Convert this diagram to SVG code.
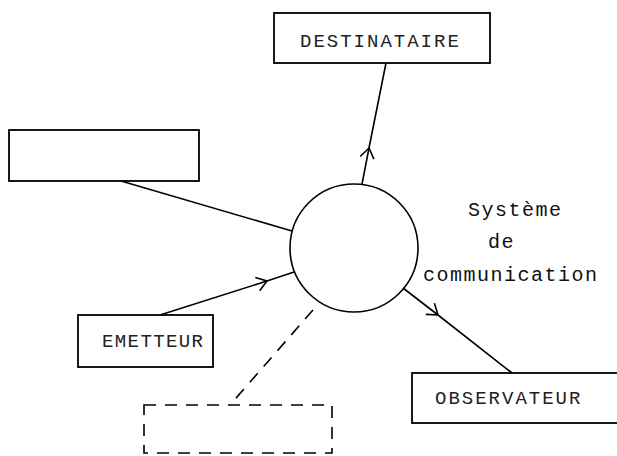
<svg xmlns="http://www.w3.org/2000/svg" width="617" height="456" viewBox="0 0 617 456">
<defs>
<marker id="chev" viewBox="-12 -12 24 24" markerWidth="24" markerHeight="24" markerUnits="userSpaceOnUse" orient="auto" refX="0" refY="0">
<path d="M-10,-7 L0,0 L-10,7" fill="none" stroke="#000" stroke-width="1.6"/>
</marker>
<style>
.box{fill:#fff;stroke:#000;stroke-width:1.8}
.dash{fill:none;stroke:#000;stroke-width:1.6;stroke-dasharray:12 9}
.ln{fill:none;stroke:#000;stroke-width:1.6}
.lbl{font-family:"Liberation Mono","DejaVu Sans Mono",monospace;font-size:19px;letter-spacing:2px;fill:#222}
.sys{font-family:"Liberation Mono","DejaVu Sans Mono",monospace;font-size:20px;letter-spacing:1.5px;fill:#111}
</style>
</defs>
<rect width="617" height="456" fill="#fff"/>
<g id="connectors">
<path class="ln" d="M362,184 L369,148 L386,63" marker-mid="url(#chev)"/>
<path class="ln" d="M121,181 L292,231"/>
<path class="ln" d="M160,315 L267,281 L294,272" marker-mid="url(#chev)"/>
<path class="ln" d="M403,288 L438,315 L512,373" marker-mid="url(#chev)"/>
<path class="dash" d="M313,310 L230,405"/>
</g>
<g id="systeme">
<circle cx="354" cy="248" r="64" fill="none" stroke="#000" stroke-width="1.6"/>
<text class="sys" x="468" y="216">Système</text>
<text class="sys" x="488" y="248">de</text>
<text class="sys" x="423" y="281">communication</text>
</g>
<g id="destinataire">
<rect class="box" x="274" y="13" width="216" height="50"/>
<text class="lbl" x="300" y="47">DESTINATAIRE</text>
</g>
<g id="source">
<rect class="box" x="9" y="130" width="190" height="51"/>
</g>
<g id="emetteur">
<rect class="box" x="78" y="315" width="135" height="52"/>
<text class="lbl" x="102" y="347" style="letter-spacing:1.4px">EMETTEUR</text>
</g>
<g id="observateur">
<rect class="box" x="412" y="373" width="220" height="50"/>
<text class="lbl" x="435" y="404">OBSERVATEUR</text>
</g>
<g id="inconnu">
<rect class="dash" x="144" y="405" width="188" height="48"/>
</g>
</svg>
